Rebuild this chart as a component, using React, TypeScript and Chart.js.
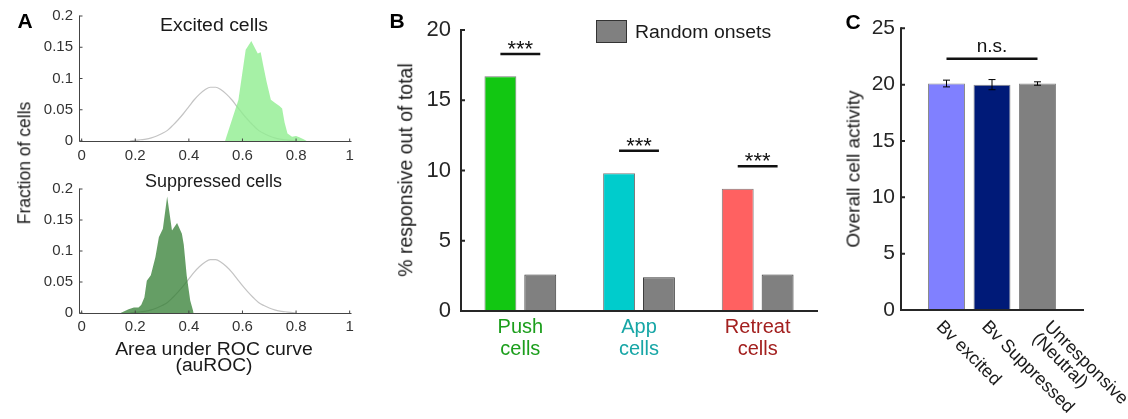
import React, { useEffect, useRef } from "react";
import { Chart, registerables } from "chart.js";
Chart.register(...registerables);

const FONT = "'Liberation Sans', Arial, Helvetica, sans-serif";

// ---------- Panel A : auROC distributions ----------
const aXTicks = [0, 0.2, 0.4, 0.6, 0.8, 1];
const aYTicks = [0, 0.05, 0.1, 0.15, 0.2];
const nullX = [0.18, 0.2, 0.22, 0.24, 0.26, 0.28, 0.3, 0.32, 0.34, 0.36, 0.38, 0.4, 0.42, 0.44, 0.46, 0.48,
  0.5, 0.52, 0.54, 0.56, 0.58, 0.6, 0.62, 0.64, 0.66, 0.68, 0.7, 0.72, 0.74, 0.76, 0.78, 0.8];
const nullY = [0.0, 0.001, 0.002, 0.003, 0.005, 0.008, 0.012, 0.017, 0.025, 0.034, 0.044, 0.055, 0.066, 0.075, 0.082, 0.086,
  0.086, 0.082, 0.075, 0.066, 0.055, 0.044, 0.034, 0.025, 0.017, 0.012, 0.008, 0.005, 0.003, 0.002, 0.001, 0.0];
const excitedX = [0.535, 0.585, 0.612, 0.633, 0.645, 0.657, 0.668, 0.678, 0.69, 0.706, 0.722, 0.738, 0.748, 0.757, 0.768, 0.785, 0.8, 0.812, 0.828, 0.84];
const excitedY = [0, 0.066, 0.146, 0.16, 0.15, 0.14, 0.142, 0.12, 0.095, 0.066, 0.061, 0.056, 0.052, 0.03, 0.012, 0.007, 0.008, 0.006, 0.003, 0];
const suppressedX = [0.145, 0.175, 0.195, 0.212, 0.222, 0.234, 0.243, 0.258, 0.275, 0.288, 0.303, 0.319, 0.337, 0.356, 0.374, 0.381, 0.392, 0.405, 0.418];
const suppressedY = [0, 0.006, 0.009, 0.009, 0.013, 0.025, 0.052, 0.061, 0.09, 0.122, 0.136, 0.188, 0.133, 0.145, 0.128, 0.11, 0.06, 0.02, 0];

// ---------- Panel B : % responsive ----------
const bCategories = [["Push", "cells"], ["App", "cells"], ["Retreat", "cells"]];
const bLabelColors = ["#1c9e1c", "#17a6a6", "#a3201f"];
const bResponsive = [16.7, 9.8, 8.7];
const bRandom = [2.6, 2.4, 2.6];
const bBarColors = ["#12c712", "#00cccc", "#ff6161"];
const bSigY = [18.3, 11.4, 10.3];
const bSigText = ["***", "***", "***"];
const bYTicks = [0, 5, 10, 15, 20];

// ---------- Panel C : overall activity ----------
const cLabels = [["Bv excited"], ["Bv Suppressed"], ["Unresponsive", "(Neutral)"]];
const cValues = [20.1, 20.0, 20.1];
const cErrors = [0.3, 0.45, 0.15];
const cColors = ["#8080ff", "#001a78", "#808080"];
const cSigY = 22.3;
const cSigText = "n.s.";
const cYTicks = [0, 5, 10, 15, 20, 25];

function crisp(v: number) {
  return Math.floor(v) + 0.5;
}

function axesPlugin(cfg: { color: string; width: number; tick: number; xTicks: boolean }) {
  return {
    id: "matlabAxes",
    afterDatasetsDraw(chart: any) {
      const { ctx, chartArea: a, scales } = chart;
      const xs = scales.x, ys = scales.y;
      const odd = Math.round(cfg.width) % 2 === 1;
      const L = odd ? crisp(a.left) : Math.round(a.left);
      const B = odd ? crisp(a.bottom) : Math.round(a.bottom);
      ctx.save();
      ctx.strokeStyle = cfg.color;
      ctx.lineWidth = cfg.width;
      ctx.lineCap = "square";
      ctx.beginPath();
      ctx.moveTo(L, a.top);
      ctx.lineTo(L, B);
      ctx.lineTo(a.right, B);
      ctx.stroke();
      ctx.lineCap = "butt";
      ctx.beginPath();
      ys.ticks.forEach((t: any) => {
        const p = ys.getPixelForValue(t.value);
        ctx.moveTo(L, p);
        ctx.lineTo(L + cfg.tick, p);
      });
      if (cfg.xTicks) {
        xs.ticks.forEach((t: any) => {
          const p = xs.getPixelForValue(t.value);
          ctx.moveTo(p, B);
          ctx.lineTo(p, B - cfg.tick);
        });
      }
      ctx.stroke();
      ctx.restore();
    },
  };
}

function makeA(canvas: HTMLCanvasElement, fx: number[], fy: number[], fill: string, top: number, xH: number, xPad: number) {
  return new Chart(canvas, {
    type: "line",
    data: {
      datasets: [
        {
          data: fx.map((x, i) => ({ x, y: fy[i] })),
          fill: "origin",
          backgroundColor: fill,
          borderWidth: 0,
          borderColor: "rgba(0,0,0,0)",
          pointRadius: 0,
          tension: 0,
        },
        {
          data: nullX.map((x, i) => ({ x, y: nullY[i] })),
          fill: false,
          borderColor: "#c4c4c4",
          borderWidth: 1.2,
          pointRadius: 0,
          cubicInterpolationMode: "monotone",
        },
      ],
    },
    options: {
      responsive: false,
      animation: false,
      events: [],
      layout: { padding: { top, right: 19, left: 0, bottom: 0 } },
      plugins: { legend: { display: false }, tooltip: { enabled: false } },
      scales: {
        x: {
          type: "linear",
          min: -0.01,
          max: 1.005,
          afterBuildTicks: (s: any) => { s.ticks = aXTicks.map((v) => ({ value: v })); },
          ticks: { callback: (v: any) => String(v), font: { size: 15 }, color: "#333", padding: xPad, maxRotation: 0, autoSkip: false },
          grid: { display: false, drawTicks: false },
          border: { display: false },
          afterFit: (s: any) => { s.height = xH; },
        },
        y: {
          min: 0,
          max: 0.2,
          afterBuildTicks: (s: any) => { s.ticks = aYTicks.map((v) => ({ value: v })); },
          ticks: { callback: (v: any) => String(v), font: { size: 15 }, color: "#333", padding: 6 },
          grid: { display: false, drawTicks: false },
          border: { display: false },
          afterFit: (s: any) => { s.width = 79; },
        },
      },
    } as any,
    plugins: [axesPlugin({ color: "#444", width: 1, tick: 3, xTicks: true })],
  });
}

function makeB(canvas: HTMLCanvasElement) {
  const sig = {
    id: "sigB",
    afterDatasetsDraw(chart: any) {
      const { ctx, scales } = chart;
      const y = scales.y;
      const m0 = chart.getDatasetMeta(0), m1 = chart.getDatasetMeta(1);
      ctx.save();
      ctx.strokeStyle = "#111";
      ctx.fillStyle = "#111";
      ctx.lineWidth = 2.5;
      ctx.font = `22px ${FONT}`;
      ctx.textAlign = "center";
      ctx.textBaseline = "alphabetic";
      bSigY.forEach((v, i) => {
        const py = y.getPixelForValue(v);
        const x0 = m0.data[i].x, x1 = m1.data[i].x;
        ctx.beginPath();
        ctx.moveTo(x0, py);
        ctx.lineTo(x1, py);
        ctx.stroke();
        ctx.fillText(bSigText[i], (x0 + x1) / 2, py + 2);
      });
      ctx.restore();
    },
  };
  return new Chart(canvas, {
    type: "bar",
    data: {
      labels: bCategories,
      datasets: [
        { data: bResponsive, backgroundColor: bBarColors, borderColor: "rgba(90,90,90,0.8)", borderWidth: 1, categoryPercentage: 0.672, barPercentage: 0.8 },
        { data: bRandom, backgroundColor: "#808080", borderColor: "#3c3c3c", borderWidth: 1, categoryPercentage: 0.672, barPercentage: 0.8 },
      ],
    },
    options: {
      responsive: false,
      animation: false,
      events: [],
      layout: { padding: { top: 30, right: 3, left: 0, bottom: 0 } },
      plugins: { legend: { display: false }, tooltip: { enabled: false } },
      scales: {
        x: {
          grid: { display: false, drawTicks: false },
          border: { display: false },
          ticks: {
            color: (c: any) => bLabelColors[c.index],
            font: { size: 20, lineHeight: 1.075 },
            padding: 5.75,
            maxRotation: 0,
            minRotation: 0,
            autoSkip: false,
          },
          afterFit: (s: any) => { s.height = 108; },
        },
        y: {
          min: 0,
          max: 20,
          afterBuildTicks: (s: any) => { s.ticks = bYTicks.map((v) => ({ value: v })); },
          ticks: { font: { size: 22 }, color: "#262626", padding: 10 },
          grid: { display: false, drawTicks: false },
          border: { display: false },
          afterFit: (s: any) => { s.width = 81; },
        },
      },
    } as any,
    plugins: [axesPlugin({ color: "#262626", width: 2, tick: 4, xTicks: false }), sig],
  });
}

function makeC(canvas: HTMLCanvasElement) {
  const extras = {
    id: "extrasC",
    afterDatasetsDraw(chart: any) {
      const { ctx, scales, chartArea } = chart;
      const x = scales.x, y = scales.y;
      const meta = chart.getDatasetMeta(0);
      ctx.save();
      // error bars
      ctx.strokeStyle = "#000";
      ctx.lineWidth = 1;
      cValues.forEach((v, i) => {
        const px = meta.data[i].x;
        const t = y.getPixelForValue(v + cErrors[i]);
        const b = y.getPixelForValue(v - cErrors[i]);
        ctx.beginPath();
        ctx.moveTo(px, t); ctx.lineTo(px, b);
        ctx.moveTo(px - 3.5, t); ctx.lineTo(px + 3.5, t);
        ctx.moveTo(px - 3.5, b); ctx.lineTo(px + 3.5, b);
        ctx.stroke();
      });
      // n.s. bracket
      const sy = y.getPixelForValue(cSigY);
      const x0 = meta.data[0].x, x1 = meta.data[cValues.length - 1].x;
      ctx.strokeStyle = "#111";
      ctx.lineWidth = 2.5;
      ctx.beginPath();
      ctx.moveTo(x0, sy); ctx.lineTo(x1, sy);
      ctx.stroke();
      ctx.fillStyle = "#111";
      ctx.font = `19px ${FONT}`;
      ctx.textAlign = "center";
      ctx.textBaseline = "alphabetic";
      ctx.fillText(cSigText, (x0 + x1) / 2, sy - 6.5);
      // rotated category labels
      ctx.font = `18px ${FONT}`;
      ctx.fillStyle = "#1a1a1a";
      ctx.textAlign = "left";
      ctx.textBaseline = "middle";
      const lh = 17;
      const c = Math.SQRT1_2;
      cLabels.forEach((lines, i) => {
        const px = x.getPixelForValue(i + 1);
        const sx = px - 7.5 + 17 * (lines.length - 1);
        const sy0 = chartArea.bottom + 14;
        lines.forEach((ln, j) => {
          ctx.save();
          ctx.translate(sx - j * lh * c, sy0 + j * lh * c);
          ctx.rotate(Math.PI / 4);
          ctx.fillText(ln, 0, 0);
          ctx.restore();
        });
      });
      ctx.restore();
    },
  };
  return new Chart(canvas, {
    type: "bar",
    data: {
      datasets: [
        {
          data: cValues.map((v, i) => ({ x: i + 1, y: v })),
          backgroundColor: cColors,
          borderColor: "rgba(110,110,110,0.8)",
          borderWidth: 1,
          categoryPercentage: 1,
          barPercentage: 0.813,
        },
      ],
    },
    options: {
      responsive: false,
      animation: false,
      events: [],
      layout: { padding: { top: 28.3, right: 45, left: 0, bottom: 0 } },
      plugins: { legend: { display: false }, tooltip: { enabled: false } },
      scales: {
        x: {
          type: "linear",
          min: 0,
          max: 4,
          offset: false,
          ticks: { display: false, stepSize: 1 },
          grid: { display: false, drawTicks: false },
          border: { display: false },
          afterFit: (s: any) => { s.height = 109; },
        },
        y: {
          min: 0,
          max: 25,
          afterBuildTicks: (s: any) => { s.ticks = cYTicks.map((v) => ({ value: v })); },
          ticks: { font: { size: 21 }, color: "#262626", padding: 6 },
          grid: { display: false, drawTicks: false },
          border: { display: false },
          afterFit: (s: any) => { s.width = 81; },
        },
      },
    } as any,
    plugins: [axesPlugin({ color: "#262626", width: 2, tick: 4, xTicks: false }), extras],
  });
}

type TProps = {
  x: number; y: number; text: string; size: number; color?: string; bold?: boolean;
  rot?: number; sx?: number; left?: boolean;
};
function T({ x, y, text, size, color = "#1a1a1a", bold = false, rot = 0, sx = 1, left = false }: TProps) {
  return (
    <div
      style={{
        position: "absolute",
        left: x,
        top: y,
        transform: left
          ? `translate(0,-50%) scale(${sx},1)`
          : `translate(-50%,-50%) rotate(${rot}deg) scale(${sx},1)`,
        transformOrigin: left ? "left center" : "center center",
        font: `${bold ? "bold " : ""}${size}px ${FONT}`,
        lineHeight: 1,
        whiteSpace: "nowrap",
        color,
      }}
    >
      {text}
    </div>
  );
}

export default function App() {
  const a1 = useRef<HTMLCanvasElement>(null);
  const a2 = useRef<HTMLCanvasElement>(null);
  const b = useRef<HTMLCanvasElement>(null);
  const c = useRef<HTMLCanvasElement>(null);

  useEffect(() => {
    Chart.defaults.font.family = FONT;
    const charts = [
      makeA(a1.current!, excitedX, excitedY, "rgba(144,238,144,0.8)", 16, 24, 5.5),
      makeA(a2.current!, suppressedX, suppressedY, "rgba(50,125,50,0.75)", 19, 27, 4.5),
      makeB(b.current!),
      makeC(c.current!),
    ];
    return () => charts.forEach((ch) => ch.destroy());
  }, []);

  const cv = (left: number, top: number): React.CSSProperties => ({ position: "absolute", left, top });

  return (
    <div style={{ position: "absolute", left: 0, top: 0, width: 1128, height: 419, background: "#fff", overflow: "hidden" }}>
      <canvas ref={a1} width={370} height={165} style={{ ...cv(0, 0), width: 370, height: 165 }} />
      <canvas ref={a2} width={370} height={170} style={{ ...cv(0, 170), width: 370, height: 170 }} />
      <canvas ref={b} width={440} height={419} style={{ ...cv(380, 0), width: 440, height: 419 }} />
      <canvas ref={c} width={308} height={419} style={{ ...cv(820, 0), width: 308, height: 419 }} />

      {/* Panel A text */}
      <T x={25} y={20} text="A" size={21} bold color="#000" />
      <T x={214} y={24.5} text="Excited cells" size={18} sx={1.08} />
      <T x={213.5} y={181} text="Suppressed cells" size={18} />
      <T x={25} y={162.5} text="Fraction of cells" size={17.5} rot={-90} />
      <T x={214} y={349} text="Area under ROC curve" size={18} sx={1.08} />
      <T x={213.5} y={365} text="(auROC)" size={18} sx={1.07} />

      {/* Panel B text */}
      <T x={397} y={20} text="B" size={21} bold color="#000" />
      <T x={406} y={170} text="% responsive out of total" size={19.5} rot={-90} />
      <div
        style={{
          position: "absolute", left: 596, top: 20, width: 31, height: 23,
          background: "#808080", border: "1.5px solid #333", boxSizing: "border-box",
        }}
      />
      <T x={635} y={31.5} text="Random onsets" size={18} sx={1.08} left />

      {/* Panel C text */}
      <T x={853} y={21} text="C" size={21} bold color="#000" />
      <T x={853} y={169} text="Overall cell activity" size={19} rot={-90} />
    </div>
  );
}
